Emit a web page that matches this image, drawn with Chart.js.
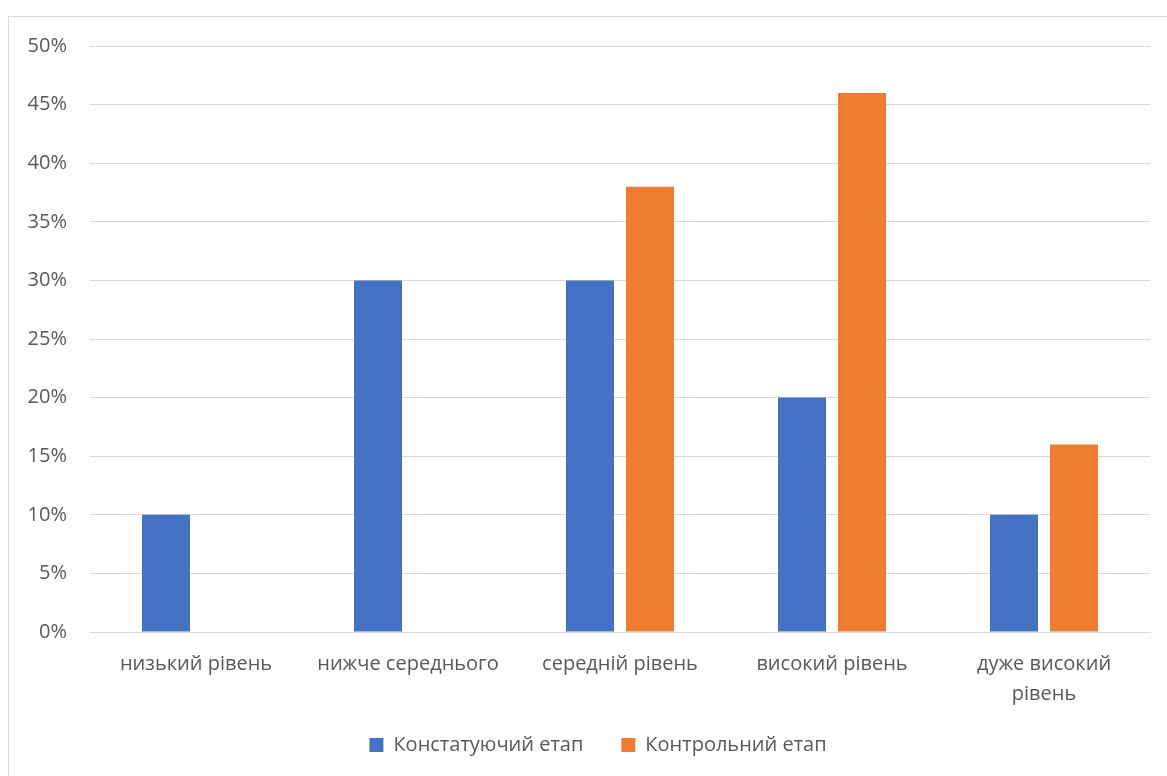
<!DOCTYPE html>
<html>
<head>
<meta charset="utf-8">
<script src="https://cdn.jsdelivr.net/npm/chart.js@4/dist/chart.umd.min.js"></script>
<style>
  html, body { margin: 0; padding: 0; background: #fff; overflow: hidden; }
  #wrap { position: absolute; left: 0; top: 0; width: 1167px; height: 776px; }
</style>
</head>
<body>
<div id="wrap"><canvas id="c" width="1167" height="776"></canvas></div>
<script>
// Рівні сформованості
const categories = [
  'низький рівень',
  'нижче середнього',
  'середній рівень',
  'високий рівень',
  ['дуже високий', 'рівень']
];
const seriesNames = ['Констатуючий етап', 'Контрольний етап'];
const stageAscertaining = [10, 30, 30, 20, 10];
const stageControl = [0, 0, 38, 46, 16];
const yTicks = [0, 5, 10, 15, 20, 25, 30, 35, 40, 45, 50];

const FONT = '"Open Sans", "Noto Sans", sans-serif';
const TEXT = '#595959';
const GRID = '#D9D9D9';

// Frame round the chart; the legend is centred on the whole framed box
const framePlugin = {
  id: 'frame',
  afterLayout(chart) {
    const lg = chart.legend;
    if (lg) { lg.left += 23; lg.right += 23; }
  },
  beforeDraw(chart) {
    const ctx = chart.ctx;
    ctx.save();
    ctx.fillStyle = '#ffffff';
    ctx.fillRect(0, 0, chart.width, chart.height);
    ctx.strokeStyle = GRID;
    ctx.lineWidth = 1;
    ctx.strokeRect(8.5, 16.5, 1300, 900);
    ctx.restore();
  }
};

new Chart(document.getElementById('c'), {
  type: 'bar',
  data: {
    labels: categories,
    datasets: [
      { label: seriesNames[0], data: stageAscertaining, backgroundColor: '#4472C4',
        categoryPercentage: 0.566, barPercentage: 0.8 },
      { label: seriesNames[1], data: stageControl, backgroundColor: '#ED7D31',
        categoryPercentage: 0.566, barPercentage: 0.8 }
    ]
  },
  options: {
    responsive: false,
    animation: false,
    devicePixelRatio: 1,
    layout: { padding: { left: 0, right: 17, top: 46, bottom: 11 } },
    plugins: {
      legend: {
        position: 'bottom',
        labels: {
          font: { family: FONT, size: 20 },
          color: TEXT,
          boxWidth: 14,
          boxHeight: 14,
          padding: 8,
          generateLabels(chart) {
            const items = Chart.defaults.plugins.legend.labels.generateLabels(chart);
            // wider spacing between the two legend entries
            items.forEach((it, i) => { if (i < items.length - 1) it.text += '\u2003\u2002'; });
            return items;
          }
        }
      },
      tooltip: { enabled: false }
    },
    scales: {
      x: {
        grid: { display: false, drawTicks: false },
        border: { display: true, color: GRID, width: 1 },
        ticks: {
          font: { family: FONT, size: 20, lineHeight: 1.5 },
          color: TEXT,
          padding: 17,
          maxRotation: 0,
          autoSkip: false
        },
        afterFit(scale) { scale.height = 95; }
      },
      y: {
        min: 0,
        max: 50,
        afterBuildTicks(scale) { scale.ticks = yTicks.map(v => ({ value: v })); },
        grid: { color: GRID, drawTicks: false },
        border: { display: false },
        ticks: {
          font: { family: FONT, size: 20 },
          color: TEXT,
          padding: 23,
          callback: v => v + '%'
        },
        afterFit(scale) { scale.width = 90; }
      }
    }
  },
  plugins: [framePlugin]
});
</script>
</body>
</html>
